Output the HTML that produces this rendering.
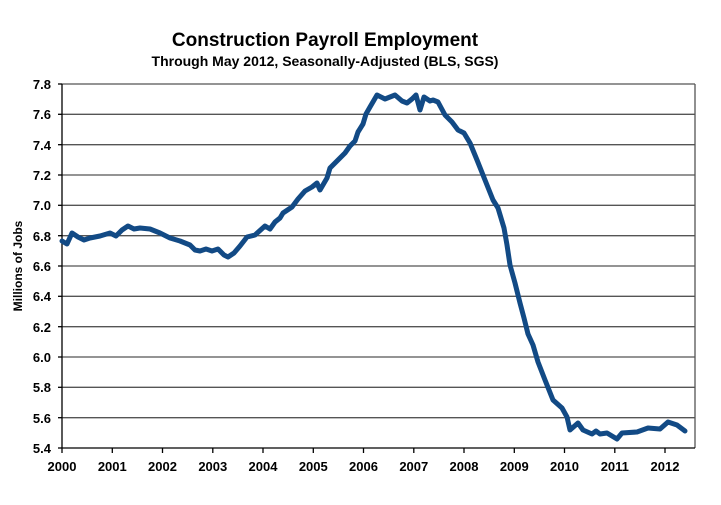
<!DOCTYPE html>
<html><head><style>
html,body{margin:0;padding:0;background:#fff;}
text{font-family:"Liberation Sans",Arial,sans-serif;font-weight:bold;fill:#000;}
</style></head><body>
<svg width="721" height="500" viewBox="0 0 721 500" xmlns="http://www.w3.org/2000/svg">
<text x="325" y="46" font-size="19" text-anchor="middle">Construction Payroll Employment</text>
<text x="325" y="66" font-size="14" text-anchor="middle">Through May 2012, Seasonally-Adjusted (BLS, SGS)</text>
<g stroke="#555" stroke-width="1.3">
<line x1="62" y1="84" x2="695" y2="84"/>
<line x1="62" y1="114.3" x2="695" y2="114.3"/>
<line x1="62" y1="144.7" x2="695" y2="144.7"/>
<line x1="62" y1="175" x2="695" y2="175"/>
<line x1="62" y1="205.3" x2="695" y2="205.3"/>
<line x1="62" y1="235.7" x2="695" y2="235.7"/>
<line x1="62" y1="266" x2="695" y2="266"/>
<line x1="62" y1="296.3" x2="695" y2="296.3"/>
<line x1="62" y1="326.7" x2="695" y2="326.7"/>
<line x1="62" y1="357" x2="695" y2="357"/>
<line x1="62" y1="387.3" x2="695" y2="387.3"/>
<line x1="62" y1="417.7" x2="695" y2="417.7"/>
<line x1="695" y1="84" x2="695" y2="448"/>
</g>
<g stroke="#000" stroke-width="1.3">
<line x1="62" y1="84" x2="62" y2="448"/>
<line x1="62" y1="448" x2="695" y2="448"/>
<line x1="58" y1="84" x2="62" y2="84"/><line x1="58" y1="114.3" x2="62" y2="114.3"/><line x1="58" y1="144.7" x2="62" y2="144.7"/><line x1="58" y1="175" x2="62" y2="175"/><line x1="58" y1="205.3" x2="62" y2="205.3"/><line x1="58" y1="235.7" x2="62" y2="235.7"/><line x1="58" y1="266" x2="62" y2="266"/><line x1="58" y1="296.3" x2="62" y2="296.3"/><line x1="58" y1="326.7" x2="62" y2="326.7"/><line x1="58" y1="357" x2="62" y2="357"/><line x1="58" y1="387.3" x2="62" y2="387.3"/><line x1="58" y1="417.7" x2="62" y2="417.7"/><line x1="58" y1="448" x2="62" y2="448"/>
<line x1="62" y1="448" x2="62" y2="453"/><line x1="112.3" y1="448" x2="112.3" y2="453"/><line x1="162.5" y1="448" x2="162.5" y2="453"/><line x1="212.8" y1="448" x2="212.8" y2="453"/><line x1="263" y1="448" x2="263" y2="453"/><line x1="313.3" y1="448" x2="313.3" y2="453"/><line x1="363.5" y1="448" x2="363.5" y2="453"/><line x1="413.8" y1="448" x2="413.8" y2="453"/><line x1="464" y1="448" x2="464" y2="453"/><line x1="514.3" y1="448" x2="514.3" y2="453"/><line x1="564.5" y1="448" x2="564.5" y2="453"/><line x1="614.8" y1="448" x2="614.8" y2="453"/><line x1="665" y1="448" x2="665" y2="453"/>
</g>
<g font-size="13" text-anchor="end">
<text x="51" y="89">7.8</text><text x="51" y="119">7.6</text><text x="51" y="150">7.4</text><text x="51" y="180">7.2</text><text x="51" y="210">7.0</text><text x="51" y="241">6.8</text><text x="51" y="271">6.6</text><text x="51" y="301">6.4</text><text x="51" y="332">6.2</text><text x="51" y="362">6.0</text><text x="51" y="392">5.8</text><text x="51" y="423">5.6</text><text x="51" y="453">5.4</text>
</g>
<g font-size="13" text-anchor="middle">
<text x="62" y="471">2000</text><text x="112.3" y="471">2001</text><text x="162.5" y="471">2002</text><text x="212.8" y="471">2003</text><text x="263" y="471">2004</text><text x="313.3" y="471">2005</text><text x="363.5" y="471">2006</text><text x="413.8" y="471">2007</text><text x="464" y="471">2008</text><text x="514.3" y="471">2009</text><text x="564.5" y="471">2010</text><text x="614.8" y="471">2011</text><text x="665" y="471">2012</text>
</g>
<text transform="translate(22,266) rotate(-90)" font-size="12" text-anchor="middle">Millions of Jobs</text>
<polyline fill="none" stroke="#124a85" stroke-width="5" stroke-linejoin="round" stroke-linecap="round" points="62,241 67,244 72,233 78,237 84,240 90,238 100,236 110,233 116,236 122,230 128,226 134,229 140,228 150,229 160,233 170,238 180,241 190,245 195,250 200,251 206,249 212,251 218,249 224,255 228,257 234,253 240,246 247,237 255,235 265,226 270,229 275,222 280,218 283,213 292,207 298,199 305,191 312,187 317,183 320,190 327,178 330,168 335,163 340,158 345,153 350,146 355,141 358,132 363,124 366,114 370,107 377,95 385,99 390,97 395,95 402,101 407,103 412,99 416,95 420,110 424,97 430,101 433,100 438,102 445,115 452,122 458,130 464,133 470,143 477,160 485,180 493,200 498,208 504,228 507,245 510,265 515,283 520,303 524,318 528,334 533,345 538,362 545,380 553,400 562,408 567,417 570,430 578,423 583,430 592,434 596,431 600,434 607,433 617,439 622,433 637,432 648,428 660,429 668,422 677,425 685,431"/>
</svg>
</body></html>
